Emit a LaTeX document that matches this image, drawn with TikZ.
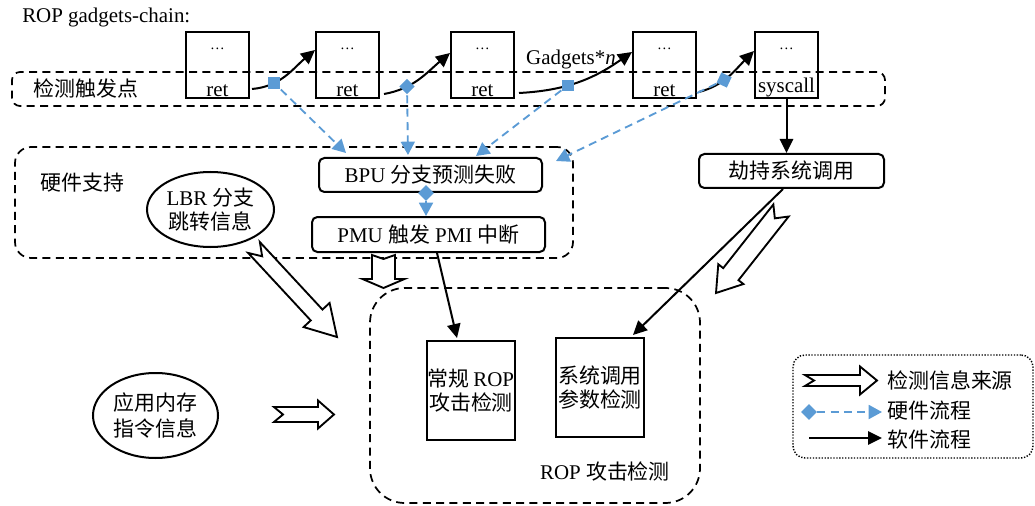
\documentclass[tikz,border=0pt]{standalone}
\usepackage{fontspec}
\setmainfont{Liberation Serif}
\newfontfamily\cjkf{Noto Sans CJK SC}
\newcommand{\zhs}[1]{{\cjkf #1}}
\newcommand{\fsz}{\fontsize{15.7pt}{18.5pt}\selectfont}
\usetikzlibrary{arrows.meta,calc,shapes.geometric}
\definecolor{hwblue}{RGB}{91,155,213}
% tail, tip, half body width, half head width, head length, notch depth
\newcommand{\hollowarrow}[6]{%
  \coordinate (#1-hb) at ($(#2)!#5!(#1)$);
  \coordinate (#1-nt) at ($(#1)!#6!(#2)$);
  \draw[hollow] ($(#1)!#3!90:(#2)$) -- (#1-nt) -- ($(#1)!#3!-90:(#2)$)
     -- ($(#1-hb)!#3!-90:(#2)$) -- ($(#1-hb)!#4!-90:(#2)$) -- (#2)
     -- ($(#1-hb)!#4!90:(#2)$) -- ($(#1-hb)!#3!90:(#2)$) -- cycle;
}
\begin{document}
\begin{tikzpicture}[x=0.75pt,y=-0.75pt,
  every node/.style={font=\fsz},
  gbox/.style={draw,line width=1.5pt,minimum width=47.25pt,minimum height=49.5pt,inner sep=0pt},
  rbox/.style={draw,line width=1.5pt,rounded corners=4pt,inner sep=0pt},
  sbox/.style={draw,line width=1.5pt,inner sep=0pt,minimum width=66pt,minimum height=74.25pt,align=center},
  region/.style={draw,line width=1.3pt,dash pattern=on 6pt off 4pt,inner sep=0pt},
  blk/.style={line width=1.5pt,-{Triangle[length=10.5pt,width=10pt]}},
  bluedash/.style={hwblue,line width=1.4pt,dash pattern=on 6pt off 4pt,-{Triangle[length=10pt,width=10.5pt]}},
  bsq/.style={fill=hwblue,rectangle,minimum size=8.5pt,inner sep=0pt},
  bdia/.style={fill=hwblue,diamond,minimum size=12pt,inner sep=0pt},
  hollow/.style={draw,fill=white,line width=1.4pt,line join=miter},
  ell/.style={draw,ellipse,line width=1.5pt,inner sep=0pt,align=center}]
\useasboundingbox (0,0) rectangle (1035,506);

% title
\node[anchor=west,inner sep=0pt] (title) at (22,17) {ROP gadgets-chain:};

% gadget boxes
\node[gbox] (g1) at (217.5,65) {};
\node[gbox] (g2) at (347.5,65) {};
\node[gbox] (g3) at (482.5,65) {};
\node[gbox] (g4) at (664.5,65) {};
\node[gbox] (g5) at (786.5,65) {};
\foreach \g in {g1,g2,g3,g4,g5}{
  \node[font=\fontsize{11pt}{12pt}\selectfont,inner sep=0pt] (\g-d) at ($(\g.north)+(0,18)$) {\ldots};
}
\foreach \g in {g1,g2,g3,g4}{
  \node[anchor=base,inner sep=0pt] (\g-r) at ($(\g.south)+(0,-2)$) {ret};
}
\node[anchor=base,inner sep=0pt] (g5-r) at ($(g5.south)+(0,-6)$) {syscall};

% trigger region
\node[region,rounded corners=6pt,minimum width=654.75pt,minimum height=25.5pt] (trig) at (448.5,89) {};
\node[anchor=west,inner sep=0pt] (trigl) at (33,89) {\zhs{检测触发点}};

% chain arrows with markers
\draw[blk] ($(g1.south east)+(2,-10)$) to[out=5,in=-140] node[pos=0.3,bsq] (m1) {} ($(g2.north west)+(0,19)$);
\draw[blk] ($(g2.south east)+(4,-5)$) to[out=10,in=-140] node[pos=0.3,bdia] (m2) {} ($(g3.north west)+(0,22)$);
\draw[blk] ($(g3.south east)+(4,-6)$) to[out=3,in=-145] node[pos=0.4,bsq] (m3) {} ($(g4.north west)+(0,21)$);
\draw[blk] ($(g4.south east)+(2,-7)$) to[out=15,in=-135] node[pos=0.4,bsq,rotate=-25] (m4) {} ($(g5.north west)+(0,20)$);
\node[inner sep=0pt] (gn) at (571,59) {Gadgets*\textit{n}};

% hardware region
\node[region,rounded corners=12pt,minimum width=418.5pt,minimum height=83.25pt] (hw) at (294,202.5) {};
\node[anchor=west,inner sep=0pt] (hwl) at (40,183) {\zhs{硬件支持}};
\node[ell,minimum width=95.25pt,minimum height=56.25pt] (lbr) at (210.5,209.5) {LBR \zhs{分支}\\\zhs{跳转信息}};
\node[rbox,minimum width=167.25pt,minimum height=25.5pt] (bpu) at (430.5,175) {BPU \zhs{分支预测失败}};
\node[rbox,minimum width=174.75pt,minimum height=26.25pt] (pmu) at (428.5,234.5) {PMU \zhs{触发} PMI \zhs{中断}};

% hijack box
\node[rbox,minimum width=138.75pt,minimum height=25.5pt] (jc) at (791.5,171) {\zhs{劫持系统调用}};

% ROP detection region
\node[region,rounded corners=26pt,minimum width=247.5pt,minimum height=161.25pt] (rop) at (535,395.5) {};
\node[sbox] (cg) at (471,390.5) {\zhs{常规}\,ROP\\\zhs{攻击检测}};
\node[sbox] (xt) at (600,387.5) {\zhs{系统调用}\\\zhs{参数检测}};
\node[inner sep=0pt] (ropl) at (605,471) {ROP \zhs{攻击检测}};

% app memory
\node[ell,minimum width=93.75pt,minimum height=63.75pt] (app) at (155.5,415.5) {\zhs{应用内存}\\[1pt]\zhs{指令信息}};

% blue hardware flow
\coordinate (t1) at ($(bpu.north west)+(28,-4)$);
\coordinate (t2) at ($(bpu.north west)+(90,-2)$);
\coordinate (t3) at ($(bpu.north west)+(158,-1)$);
\coordinate (t4) at ($(bpu.north east)+(13,4)$);
\draw[bluedash] (m1) -- (t1);
\draw[bluedash] (m2) -- (t2);
\draw[bluedash] (m3) -- (t3);
\draw[bluedash] (m4) -- (t4);
\node[bdia] (d0) at ($(bpu.south)+(-4.5,0)$) {};
\draw[bluedash] (d0) -- (d0 |- pmu.north);

% black software flow
\draw[blk] (g5.south) -- (g5.south |- jc.north);
\draw[blk] ($(pmu.south)+(8.5,0)$) -- ($(cg.north)+(-14,-2)$);
\draw[blk] ($(jc.south)+(-8.5,0)$) -- ($(xt.north)+(33,-2)$);

% hollow information arrows
\coordinate (a1t) at (254,247.5); \coordinate (a1h) at (337,337);
\hollowarrow{a1t}{a1h}{6pt}{13.3pt}{22.5pt}{9pt}
\coordinate (a2t) at (383.5,255); \coordinate (a2h) at (383.5,288);
\hollowarrow{a2t}{a2h}{8.6pt}{15.75pt}{6.75pt}{3pt}
\coordinate (a3t) at (274,414.5); \coordinate (a3h) at (334,414.5);
\hollowarrow{a3t}{a3h}{5.6pt}{10.5pt}{12pt}{6.75pt}
\coordinate (a4t) at (781,210.5); \coordinate (a4h) at (716,293);
\hollowarrow{a4t}{a4h}{7.3pt}{12pt}{18pt}{7.5pt}

% legend
\node[draw,line width=1.1pt,dash pattern=on 1pt off 1.2pt,rounded corners=9pt,minimum width=180pt,minimum height=77.25pt,inner sep=0pt] (leg) at (913,406.5) {};
\coordinate (l0t) at (805,380.5); \coordinate (l0h) at (877,380.5);
\hollowarrow{l0t}{l0h}{4.1pt}{10.5pt}{12.75pt}{6.75pt}
\node[anchor=west,inner sep=0pt] (l1) at (887,380) {\zhs{检测信息来源}};
\node[bdia] (ld) at (809,412) {};
\coordinate (lbt) at (882,412);
\draw[bluedash] (ld) -- (lbt);
\node[anchor=west,inner sep=0pt] (l2) at (887,411) {\zhs{硬件流程}};
\coordinate (lks) at (809,438); \coordinate (lkt) at (882,438);
\draw[blk] (lks) -- (lkt);
\node[anchor=west,inner sep=0pt] (l3) at (887,440) {\zhs{软件流程}};
\end{tikzpicture}
\end{document}
